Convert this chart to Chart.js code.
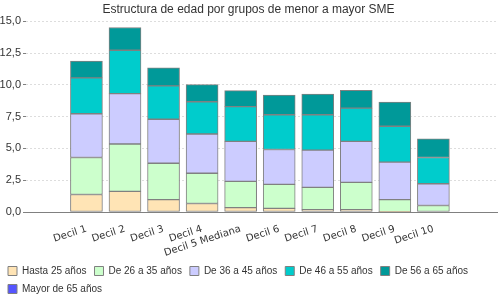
<!DOCTYPE html>
<html>
<head>
<meta charset="utf-8">
<script src="https://cdn.jsdelivr.net/npm/chart.js@4"></script>
<style>
    html, body { margin: 0; padding: 0; background: #fff; }
    #wrap { width: 500px; height: 300px; }
</style>
</head>
<body>
<div id="wrap"><canvas id="edadChart"></canvas></div>
<script>
// Categorias (deciles) y valores por grupo de edad
const deciles = ['Decil 1', 'Decil 2', 'Decil 3', 'Decil 4', 'Decil 5 Mediana',
    'Decil 6', 'Decil 7', 'Decil 8', 'Decil 9', 'Decil 10'];

const hasta25 = [1.38, 1.62, 0.98, 0.67, 0.35, 0.29, 0.19, 0.19, 0.03, 0.00];
const de26a35 = [2.91, 3.73, 2.86, 2.38, 2.06, 1.88, 1.75, 2.14, 0.95, 0.51];
const de36a45 = [3.44, 3.97, 3.46, 3.09, 3.15, 2.75, 2.93, 3.23, 2.94, 1.71];
const de46a55 = [2.83, 3.41, 2.62, 2.54, 2.73, 2.73, 2.78, 2.61, 2.83, 2.07];
const de56a65 = [1.32, 1.79, 1.43, 1.35, 1.26, 1.56, 1.64, 1.41, 1.90, 1.46];
const mayor65 = [0.00, 0.00, 0.00, 0.00, 0.00, 0.00, 0.00, 0.00, 0.00, 0.00];

const yTicks = [0, 2.5, 5, 7.5, 10, 12.5, 15];

function toPoints(values) {
    return values.map(function (v, i) { return { x: i, y: v }; });
}

function serie(label, values, color) {
    return {
        label: label,
        data: toPoints(values),
        backgroundColor: color,
        borderColor: '#808080',
        borderWidth: 1,
        borderSkipped: false,
        barThickness: 32
    };
}

const ctx = document.getElementById('edadChart').getContext('2d');

new Chart(ctx, {
    type: 'bar',
    data: {
        datasets: [
            serie('Hasta 25 años', hasta25, '#FFE4B5'),
            serie('De 26 a 35 años', de26a35, '#CCFFCC'),
            serie('De 36 a 45 años', de36a45, '#CCCCFF'),
            serie('De 46 a 55 años', de46a55, '#00CCCC'),
            serie('De 56 a 65 años', de56a65, '#009999'),
            serie('Mayor de 65 años', mayor65, '#5555FF')
        ]
    },
    options: {
        responsive: true,
        maintainAspectRatio: false,
        animation: false,
        layout: { padding: { left: 0, right: 3, top: 0, bottom: -4 } },
        plugins: {
            tooltip: { enabled: false },
            title: {
                display: true,
                text: 'Estructura de edad por grupos de menor a mayor SME',
                color: '#333',
                font: { family: 'Liberation Sans', size: 12, weight: 'normal' },
                padding: { top: 2, bottom: 5 }
            },
            legend: {
                position: 'bottom',
                align: 'start',
                labels: {
                    boxWidth: 9,
                    boxHeight: 9,
                    padding: 8,
                    color: '#333',
                    font: { family: 'Liberation Sans', size: 10 }
                }
            }
        },
        scales: {
            x: {
                type: 'linear',
                stacked: true,
                min: -0.957,
                max: 10.039,
                afterBuildTicks: function (scale) {
                    scale.ticks = deciles.map(function (_, i) { return { value: i }; });
                },
                afterFit: function (scale) { scale.height = 46; },
                grid: { display: false },
                border: { display: true, color: '#808080', width: 1 },
                ticks: {
                    autoSkip: false,
                    maxRotation: 18,
                    minRotation: 18,
                    padding: 3,
                    color: '#333',
                    font: { family: 'DejaVu Sans', size: 10 },
                    callback: function (value) { return deciles[value]; }
                }
            },
            y: {
                stacked: true,
                min: 0,
                max: 15,
                afterBuildTicks: function (scale) {
                    scale.ticks = yTicks.map(function (v) { return { value: v }; });
                },
                afterFit: function (scale) { scale.width = 26; },
                border: { display: false, dash: [2, 2] },
                grid: {
                    color: '#dddddd',
                    tickLength: 3,
                    tickColor: '#808080'
                },
                ticks: {
                    padding: 2,
                    color: '#333',
                    font: { family: 'Liberation Sans', size: 11 },
                    callback: function (value) { return value.toFixed(1).replace('.', ','); }
                }
            }
        }
    }
});
</script>
</body>
</html>
